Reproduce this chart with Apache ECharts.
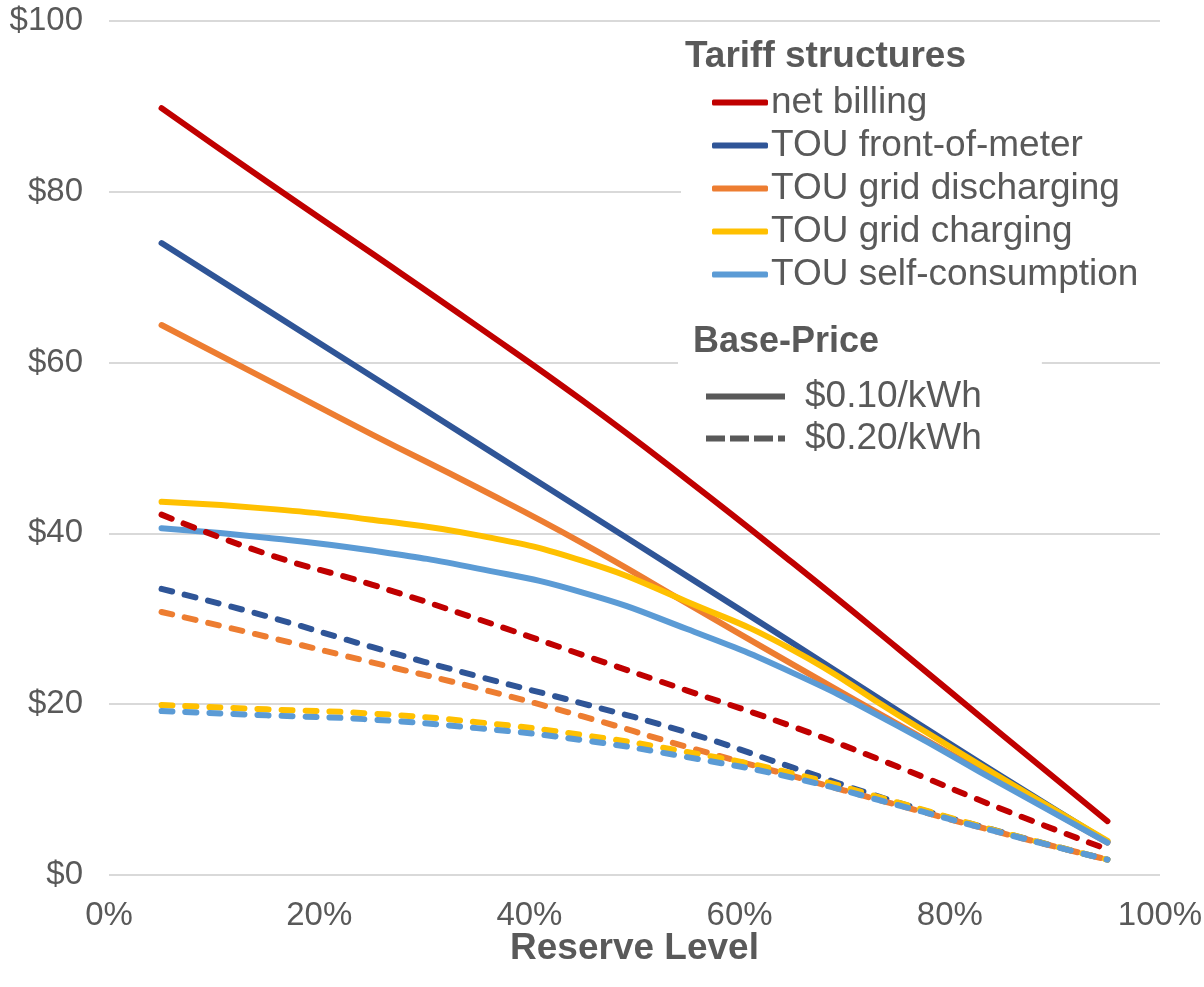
<!DOCTYPE html>
<html>
<head>
<meta charset="utf-8">
<script src="https://cdn.jsdelivr.net/npm/echarts@6/dist/echarts.min.js"></script>
<style>
  html, body { margin: 0; padding: 0; background: #ffffff; }
  #chart { width: 1204px; height: 987px; }
</style>
</head>
<body>
<div id="chart"></div>
<script>
// Reserve level (% of battery capacity held in reserve)
const reserveLevels = [5, 15, 25, 35, 45, 55, 65, 75, 85, 95];

const tariffNames = ['net billing', 'TOU front-of-meter', 'TOU grid discharging', 'TOU grid charging', 'TOU self-consumption'];
const tariffColors = ['#C00000', '#2F5597', '#ED7D31', '#FFC000', '#5B9BD5'];
const basePriceNames = ['$0.10/kWh', '$0.20/kWh'];

// Value at a base price of $0.10/kWh
const netBilling10      = [89.8, 81.2, 72.8, 64.3, 55.6, 46.3, 36.6, 26.6, 16.4, 6.3];
const frontOfMeter10    = [74.0, 66.2, 58.4, 50.6, 42.8, 35.0, 27.2, 19.3, 11.5, 3.9];
const gridDischarging10 = [64.4, 58.0, 51.6, 45.4, 38.9, 31.8, 24.7, 17.7, 10.8, 3.8];
const gridCharging10    = [43.7, 42.9, 41.6, 39.8, 36.8, 32.0, 26.4, 18.8, 11.3, 4.0];
const selfConsumption10 = [40.6, 39.5, 38.0, 35.9, 33.1, 28.8, 23.7, 17.5, 10.6, 3.8];

// Value at a base price of $0.20/kWh
const netBilling20      = [42.2, 37.6, 34.0, 30.0, 25.8, 21.6, 17.4, 12.7, 7.7, 3.0];
const frontOfMeter20    = [33.5, 30.3, 26.7, 23.3, 20.1, 16.7, 12.6, 8.5, 5.0, 1.8];
const gridDischarging20 = [30.8, 27.9, 24.9, 21.9, 18.6, 15.0, 11.6, 8.2, 4.9, 1.8];
const gridCharging20    = [19.9, 19.4, 18.9, 17.9, 16.4, 14.4, 11.9, 8.5, 5.0, 1.8];
const selfConsumption20 = [19.2, 18.7, 18.2, 17.2, 15.8, 13.8, 11.4, 8.2, 4.9, 1.8];

const xTickValues = [0, 20, 40, 60, 80, 100];
const yTickValues = [0, 20, 40, 60, 80, 100];

const lowPriceSets  = [netBilling10, frontOfMeter10, gridDischarging10, gridCharging10, selfConsumption10];
const highPriceSets = [netBilling20, frontOfMeter20, gridDischarging20, gridCharging20, selfConsumption20];

const FONT = '"Liberation Sans", Arial, sans-serif';
const TEXT = '#595959';

function pairs(values) {
  return reserveLevels.map((x, i) => [x, values[i]]);
}

const series = [];
lowPriceSets.forEach((vals, i) => {
  series.push({
    name: tariffNames[i],
    type: 'line',
    data: pairs(vals),
    smooth: 0.5,
    symbol: 'none',
    color: tariffColors[i],
    lineStyle: { width: 6, color: tariffColors[i], cap: 'round', join: 'round' },
    z: 2
  });
});
highPriceSets.forEach((vals, i) => {
  series.push({
    name: tariffNames[i],
    type: 'line',
    data: pairs(vals),
    smooth: 0.5,
    symbol: 'none',
    color: tariffColors[i],
    lineStyle: { width: 6, color: tariffColors[i], type: [11, 13], cap: 'round', join: 'round' },
    z: 3
  });
});
// Line-style key entries (no data of their own)
series.push({
  name: basePriceNames[0], type: 'line', data: [], symbol: 'none', color: TEXT,
  lineStyle: { width: 6, color: TEXT }
});
series.push({
  name: basePriceNames[1], type: 'line', data: [], symbol: 'none', color: TEXT,
  lineStyle: { width: 6, color: TEXT, type: [19, 5] }
});

// Key glyphs: a solid bar and a dashed bar, both 79 x 6
const solidKey = 'path://M0,0h79v6h-79z';
const dashedKey = 'path://M0,0h19v6h-19zM24,0h19v6h-19zM48,0h19v6h-19zM72,0h7v6h-7z';

const chart = echarts.init(document.getElementById('chart'), null, { renderer: 'canvas' });
chart.setOption({
  animation: false,
  backgroundColor: '#ffffff',
  textStyle: { fontFamily: FONT },
  grid: { left: 109, right: 44, top: 21, bottom: 112, containLabel: false, outerBoundsMode: 'none' },
  title: [
    {
      text: 'Tariff structures', left: 685, top: 38, padding: 0, z: 10,
      textStyle: { fontSize: 37, fontWeight: 'bold', color: TEXT, fontFamily: FONT, lineHeight: 37 }
    },
    {
      text: 'Base-Price', left: 693, top: 324, padding: 0, z: 10,
      textStyle: { fontSize: 36, fontWeight: 'bold', color: TEXT, fontFamily: FONT, lineHeight: 36 }
    }
  ],
  legend: [
    {
      data: tariffNames,
      orient: 'vertical',
      left: 681, top: 76,
      padding: [8, 24, 10, 31],
      icon: 'roundRect',
      itemWidth: 56, itemHeight: 6,
      itemGap: 6,
      backgroundColor: '#ffffff',
      selectedMode: false,
      textStyle: { fontSize: 37, color: TEXT, fontFamily: FONT, lineHeight: 37, padding: [0, 0, 0, -2] }
    },
    {
      data: [
        { name: basePriceNames[0], icon: solidKey },
        { name: basePriceNames[1], icon: dashedKey }
      ],
      orient: 'vertical',
      left: 678, top: 351,
      padding: [27, 60, 10, 28],
      itemWidth: 79, itemHeight: 6,
      itemGap: 5,
      backgroundColor: '#ffffff',
      selectedMode: false,
      itemStyle: { color: TEXT },
      textStyle: { fontSize: 37, color: TEXT, fontFamily: FONT, lineHeight: 37, padding: [0, 0, 0, 15] }
    }
  ],
  xAxis: {
    type: 'value',
    min: xTickValues[0], max: xTickValues[xTickValues.length - 1], interval: 20,
    name: 'Reserve Level',
    nameLocation: 'middle',
    nameGap: 55,
    nameMoveOverlap: false,
    nameTextStyle: { fontSize: 37, fontWeight: 'bold', color: TEXT, fontFamily: FONT, lineHeight: 37 },
    axisLine: { show: false },
    axisTick: { show: false },
    splitLine: { show: false },
    axisLabel: { fontSize: 33, color: TEXT, fontFamily: FONT, margin: 24, formatter: v => v + '%' }
  },
  yAxis: {
    type: 'value',
    min: yTickValues[0], max: yTickValues[yTickValues.length - 1], interval: 20,
    axisLine: { show: false },
    axisTick: { show: false },
    splitLine: { show: true, lineStyle: { color: '#D9D9D9', width: 2 } },
    axisLabel: { fontSize: 33, color: TEXT, fontFamily: FONT, margin: 26, formatter: v => '$' + v }
  },
  series: series
});
</script>
</body>
</html>
